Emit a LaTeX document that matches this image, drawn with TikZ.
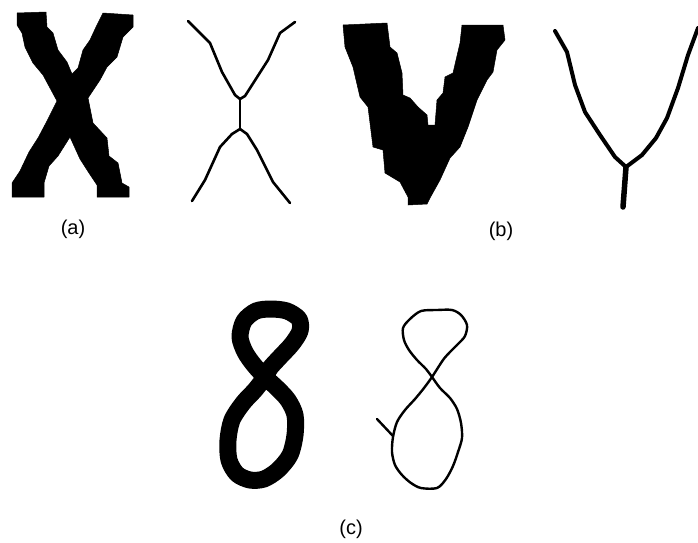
\documentclass[tikz,border=0pt]{standalone}
\usepackage{fontspec}
\setmainfont{Liberation Sans}
\usepackage{tikz}
\tikzstyle{blob} = [fill=black, draw=black, line width=0.5pt, line join=round]
\tikzstyle{skel} = [draw=black, line width=2.6pt, line cap=round, line join=round]
\tikzstyle{skelwide} = [draw=black, line width=4pt, line cap=round, line join=round]
\tikzstyle{ring} = [draw=black, line width=17pt, line join=round]
\tikzstyle{caption} = [font=\fontsize{20}{24}\selectfont, inner sep=0pt]

\begin{document}
\begin{tikzpicture}[x=1pt, y=-1pt]
    \useasboundingbox (0,0) rectangle (698,542);
    % Thick shapes
    \path [blob] (17,13) -- (46,12) -- (47,27) -- (53,33) -- (58,50) -- (67,62)
        -- (72,74) -- (78,68) -- (83,50) -- (90,40) -- (96,27) -- (103,13)
        -- (133,15) -- (133,27) -- (123,37) -- (117,57) -- (107,67) -- (100,80)
        -- (88,98) -- (93,123) -- (107,138) -- (109,156) -- (118,163) -- (122,183)
        -- (129,187) -- (129,197) -- (97,197) -- (97,185) -- (89,173) -- (80,159)
        -- (70,137) -- (58,156) -- (49,166) -- (44,183) -- (44,197) -- (12,197)
        -- (12,183) -- (20,171) -- (29,152) -- (38,138) -- (47,121) -- (57,101)
        -- (50,88) -- (43,75) -- (33,63) -- (25,47) -- (22,33) -- (17,25) -- cycle;
    \path [blob] (343,25) -- (387,23) -- (390,47) -- (397,53) -- (402,73) -- (403,95)
        -- (410,98) -- (418,107) -- (427,115) -- (428,125) -- (435,125) -- (437,100)
        -- (443,93) -- (445,77) -- (453,73) -- (460,43) -- (462,25) -- (503,25)
        -- (505,40) -- (497,50) -- (493,72) -- (487,80) -- (477,100) -- (468,127)
        -- (460,147) -- (450,158) -- (440,180) -- (430,198) -- (427,204) -- (408,205)
        -- (408,197) -- (400,182) -- (385,173) -- (383,150) -- (373,147) -- (368,107)
        -- (360,97) -- (353,67) -- (345,47) -- cycle;
    \draw [ring] plot [smooth cycle] coordinates {(265,377) (254,365) (245,352)
        (240,337) (244,321) (256,311) (271,309) (287,311) (299,319) (300,331)
        (292,344) (280,357) (270,368) (265,377) (255,390) (243,403) (232,420)
        (228,440) (229,460) (237,474) (250,480) (264,479) (278,470) (290,455)
        (295,435) (295,415) (288,400) (277,388)};

    % Skeletons
    \coordinate (xtop) at (240,99);
    \coordinate (xbot) at (240,129);
    \draw [skel] (188,21) -- (210,43) -- (222,72) -- (235,95) -- (xtop);
    \draw [skel] (295,22) -- (280,33) -- (268,60) -- (245,96) -- (xtop);
    \draw [skel] (xtop) -- (xbot);
    \draw [skel] (xbot) -- (232,134) -- (220,147) -- (205,180) -- (192,201);
    \draw [skel] (xbot) -- (247,134) -- (257,150) -- (273,182) -- (290,203);

    \coordinate (yfork) at (626,167);
    \draw [skelwide] (555,31) -- (567,52) -- (575,85) -- (585,112) -- (600,135)
        -- (615,157) -- (yfork);
    \draw [skelwide] (698,28) -- (688,55) -- (678,88) -- (667,118) -- (656,138)
        -- (642,155) -- (yfork);
    \draw [skelwide, line width=5.5pt] (yfork) -- (623,207);

    \coordinate (ecross) at (432,377);
    \draw [skel, line width=2.4pt] plot [smooth cycle] coordinates {(ecross)
        (426,369) (417,360) (409,350) (404,340) (403,328) (410,319) (421,311)
        (437,310) (452,310) (461,315) (467,325) (465,336) (458,344) (450,352)
        (443,360) (ecross) (424,388) (415,399) (405,410) (397,422) (393,437)
        (392,452) (395,465) (402,475) (411,483) (421,488) (437,488) (446,479)
        (453,466) (458,452) (462,438) (461,423) (457,409) (450,398) (440,388)};
    \draw [skel, line width=2.4pt] (377,419) -- (393,436);

    % Captions
    \node [caption] (capa) at (73,229) {(a)};
    \node [caption] (capb) at (501,231) {(b)};
    \node [caption] (capc) at (351,529) {(c)};
\end{tikzpicture}
\end{document}
